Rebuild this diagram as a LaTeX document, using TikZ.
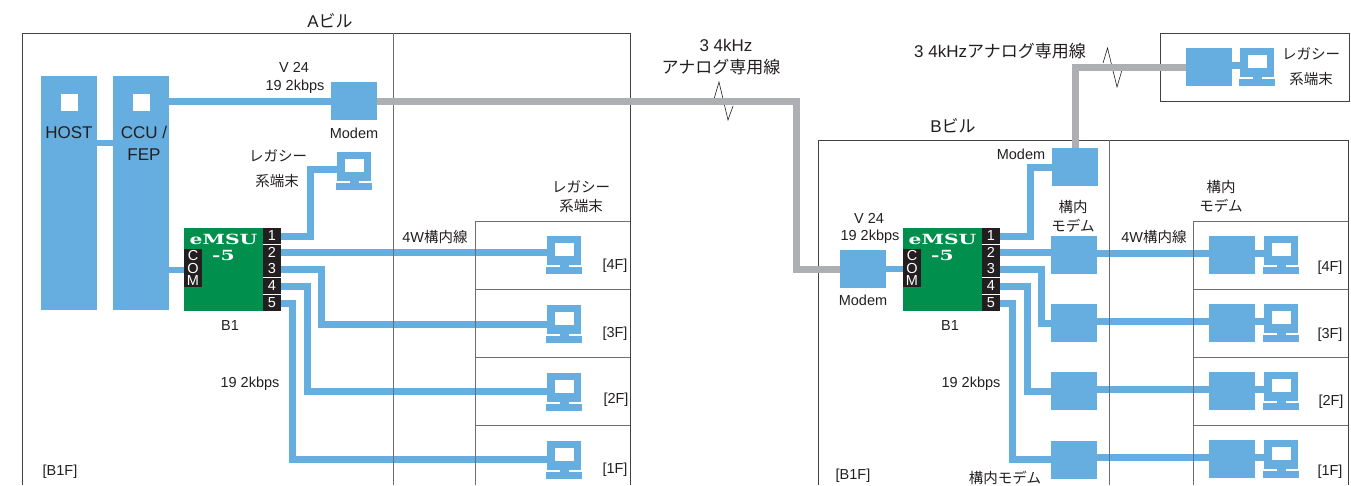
\documentclass[tikz,border=0pt]{standalone}
\usepackage{fontspec}
\setmainfont{Liberation Sans}
\newfontfamily\jpfont{Noto Sans CJK JP}
\newfontfamily\emsufont[FakeStretch=1.45]{DejaVu Serif Bold}
\newcommand{\jp}[1]{{\jpfont #1}}
\definecolor{linkblue}{HTML}{66ADE0}
\definecolor{linkgray}{HTML}{AEAFB2}
\definecolor{emsugreen}{HTML}{008F4C}
\definecolor{inkOne}{HTML}{231F20}
\definecolor{frameTwo}{HTML}{6D6E71}
\tikzset{
  every node/.style={inner sep=0pt, outer sep=0pt},
  bluebox/.style={fill=linkblue, minimum width=46pt, minimum height=38pt},
  bigbox/.style={fill=linkblue, minimum width=56pt, minimum height=234pt},
  holebox/.style={fill=white, minimum width=17pt, minimum height=17pt},
  termtop/.style={fill=linkblue, minimum width=34pt, minimum height=34pt},
  termscreen/.style={fill=white, minimum width=19pt, minimum height=13.5pt},
  termstrip/.style={fill=white, minimum width=36pt, minimum height=2pt},
  termneck/.style={fill=linkblue, minimum width=9pt, minimum height=3pt},
  termbase/.style={fill=linkblue, minimum width=36pt, minimum height=7.5pt},
  emsubox/.style={fill=emsugreen, minimum width=79pt, minimum height=83pt},
  portcol/.style={fill=inkOne, minimum width=18pt, minimum height=16pt, text=white, font=\fontsize{14.5}{15}\selectfont},
  combox/.style={fill=inkOne, minimum width=18pt, minimum height=38pt, text=white, align=center, font=\fontsize{14.5}{12.5}\selectfont},
  emsutext/.style={text=white, font=\fontsize{14}{16}\emsufont},
  bluelink/.style={draw=linkblue, line width=7pt},
  graylink/.style={draw=linkgray, line width=7pt},
  framea/.style={draw=inkOne!85, line width=0.8pt},
  frameb/.style={draw=frameTwo, line width=1pt},
  zigline/.style={draw=inkOne, line width=0.6pt},
  lbl/.style={text=inkOne, align=center, font=\fontsize{14.5}{19}\selectfont},
  biglbl/.style={text=inkOne, align=center, font=\fontsize{17}{22}\selectfont},
}
% monitor parts round a node called #1
\newcommand{\termicon}[1]{
  \node[termscreen] (#1s) at ([yshift=3.5pt]#1.center) {};
  \node[termstrip] (#1g) at ([yshift=-13pt]#1.center) {};
  \node[termneck] (#1n) at ([yshift=-13pt]#1.center) {};
  \node[termbase] (#1b) at ([yshift=-17.5pt]#1.center) {};
}
\begin{document}
\begin{tikzpicture}[x=1pt, y=-1pt]
  \useasboundingbox (0,0) rectangle (1351,485);
  % ---- building A: host side
  \node[bigbox] (host) at (69,193) {};
  \node[bigbox] (ccu) at (141,193) {};
  \node[holebox] (hosthole) at (69.5,102.5) {};
  \node[holebox] (ccuhole) at (141.5,102.5) {};
  \node[biglbl] (hosttext) at (69,133) {HOST};
  \node[biglbl] (ccutext) at (144,143.5) {CCU /\\FEP};
  \node[bluebox] (amod) at (354,101) {};
  \node[termtop] (aterm) at (354,169) {};
  \termicon{aterm}
  % ---- both eMSU units
  \foreach \b/\x in {a/184, b/903} {
    \node[emsubox] (\b emsu) at (\x+39.5,269.5) {};
    \foreach \n/\y in {1/236, 2/252.5, 3/269, 4/286, 5/303} {
      \node[portcol] (\b p\n) at (\x+88,\y) {\n};
    }
    \node[combox] (\b com) at (\x+9,268) {C\\O\\M};
    \node[emsutext] (\b name) at (\x+39.5,239) {eMSU};
    \node[emsutext] (\b five) at (\x+39.5,255) {-5};
  }
  % ---- floor terminals of A
  \foreach \n/\y in {4/253, 3/322, 2/390, 1/458} {
    \node[termtop] (ft\n) at (564,\y) {};
    \termicon{ft\n}
  }
  % ---- building B
  \node[bluebox] (bmod) at (863,269) {};
  \node[bluebox] (upmod) at (1075,167) {};
  \foreach \n/\y in {1/255, 2/323, 3/391, 4/460} {
    \node[bluebox] (imod\n) at (1074,\y) {};
  }
  \foreach \n/\y in {1/255, 2/323, 3/391, 4/459} {
    \node[bluebox] (fmod\n) at (1232,\y) {};
    \node[termtop] (gt\n) at (1281,\y-2) {};
    \termicon{gt\n}
  }
  % ---- legacy box at the top right
  \node[bluebox] (lmod) at (1208.5,67) {};
  \node[termtop] (lterm) at (1257,65) {};
  \termicon{lterm}
  % ---- blue links
  \draw[bluelink, line width=6.5pt] ([yshift=50pt]host.east) -- ([yshift=50pt]ccu.west);
  \draw[bluelink] (amod.west -| ccu.east) -- (amod.west);
  \draw[bluelink, line width=6pt] (aemsu.west -| ccu.east) -- (aemsu.west);
  \draw[bluelink] (ap1.east) -- ++(29.5,0) |- (aterm.west);
  \draw[bluelink] (ap2.east) -- (ap2.east -| ft4.west);
  \draw[bluelink] (ap3.east) -- ++(40,0) |- ([yshift=-2pt]ft3.west);
  \draw[bluelink] (ap4.east) -- ++(26.5,0) |- ([yshift=-1pt]ft2.west);
  \draw[bluelink] (ap5.east) -- ++(11.5,0) |- ([yshift=-1pt]ft1.west);
  \draw[bluelink, line width=6pt] (bmod.east) -- (bmod.east -| bemsu.west);
  \draw[bluelink] (bp1.east) -- ++(30,0) |- (upmod.west);
  \draw[bluelink] (bp2.east) -- (bp2.east -| imod1.west);
  \draw[bluelink] (bp3.east) -- ++(41,0) |- (imod2.west);
  \draw[bluelink] (bp4.east) -- ++(27,0) |- (imod3.west);
  \draw[bluelink] (bp5.east) -- ++(12.5,0) |- ([yshift=1pt]imod4.west);
  \foreach \n in {1,2,3,4} {
    \draw[bluelink] ([yshift=2pt]fmod\n.west -| imod\n.east) -- ([yshift=2pt]fmod\n.west);
    \draw[bluelink] (gt\n.west -| fmod\n.east) -- (gt\n.west);
  }
  \draw[bluelink] (lterm.west -| lmod.east) -- (lterm.west);
  % ---- frames
  \draw[framea] (22,485) -- (22,33) -- (630,33) -- (630,485);
  \draw[frameb] (393,33) -- (393,485);
  \draw[frameb] (475,485) -- (475,221) -- (630,221);
  \foreach \y in {289,357,425} {
    \draw[frameb] (475,\y) -- (630,\y);
    \draw[frameb] (1193,\y) -- (1348,\y);
  }
  \draw[framea] (818,485) -- (818,140) -- (1348,140) -- (1348,485);
  \draw[frameb] (1109,140) -- (1109,485);
  \draw[frameb] (1193,485) -- (1193,221) -- (1348,221);
  \draw[framea] (1160,33) rectangle (1349,101);
  % ---- analog lines
  \draw[zigline] (714,99) -- (719,82) -- (728,120) -- (733,106);
  \draw[zigline] (1103,63) -- (1107.5,48) -- (1117,87) -- (1122,70);
  \draw[graylink] (amod.east) -- ++(419,0) |- (bmod.west);
  \draw[graylink] (lmod.west) -| (upmod.north);
  % ---- labels
  \node[biglbl] (atitle) at (330,21) {A\jp{ビル}};
  \node[biglbl] (btitle) at (953,126) {B\jp{ビル}};
  \node[lbl] (av) at (294,67) {V 24};
  \node[lbl] (arate) at (295,87) {19 2kbps};
  \node[lbl] (amodtext) at (354,133) {Modem};
  \node[lbl] (alegone) at (278,156) {\jp{レガシー}};
  \node[lbl] (alegtwo) at (277,181) {\jp{系端末}};
  \node[lbl] (afloorleg) at (581,197) {\jp{レガシー}\\\jp{系端末}};
  \node[lbl] (awire) at (435,237) {4W\jp{構内線}};
  \node[lbl] (ab) at (230,326) {B1};
  \node[lbl] (arateb) at (250,384) {19 2kbps};
  \node[lbl] (afloor) at (60,472) {[B1F]};
  \node[biglbl] (khztext) at (726,45) {3 4kHz};
  \node[biglbl] (linetext) at (721,67) {\jp{アナログ専用線}};
  \node[biglbl] (toptext) at (1000,51) {3 4kHz\jp{アナログ専用線}};
  \node[lbl] (llegone) at (1311,54) {\jp{レガシー}};
  \node[lbl] (llegtwo) at (1311,79) {\jp{系端末}};
  \node[lbl] (upmodtext) at (1021,154) {Modem};
  \node[lbl] (bv) at (869,218) {V 24};
  \node[lbl] (brate) at (870,237) {19 2kbps};
  \node[lbl] (bmodtext) at (863,300) {Modem};
  \node[lbl] (bb) at (950,326) {B1};
  \node[lbl] (brateb) at (971,384) {19 2kbps};
  \node[lbl] (bfloor) at (853,476) {[B1F]};
  \node[lbl] (imodtext) at (1005,478) {\jp{構内モデム}};
  \node[lbl] (imodtop) at (1073,216) {\jp{構内}\\\jp{モデム}};
  \node[lbl] (fmodtop) at (1221,196) {\jp{構内}\\\jp{モデム}};
  \node[lbl] (bwire) at (1154,237) {4W\jp{構内線}};
  \foreach \x/\y/\f in {615/266/4F, 615/334/3F, 616/400/2F, 615/470/1F, 1330/268/4F, 1330/335/3F, 1331/402/2F, 1330/472/1F} {
    \node[lbl] (fl\x\f) at (\x,\y) {[\f]};
  }
\end{tikzpicture}
\end{document}
